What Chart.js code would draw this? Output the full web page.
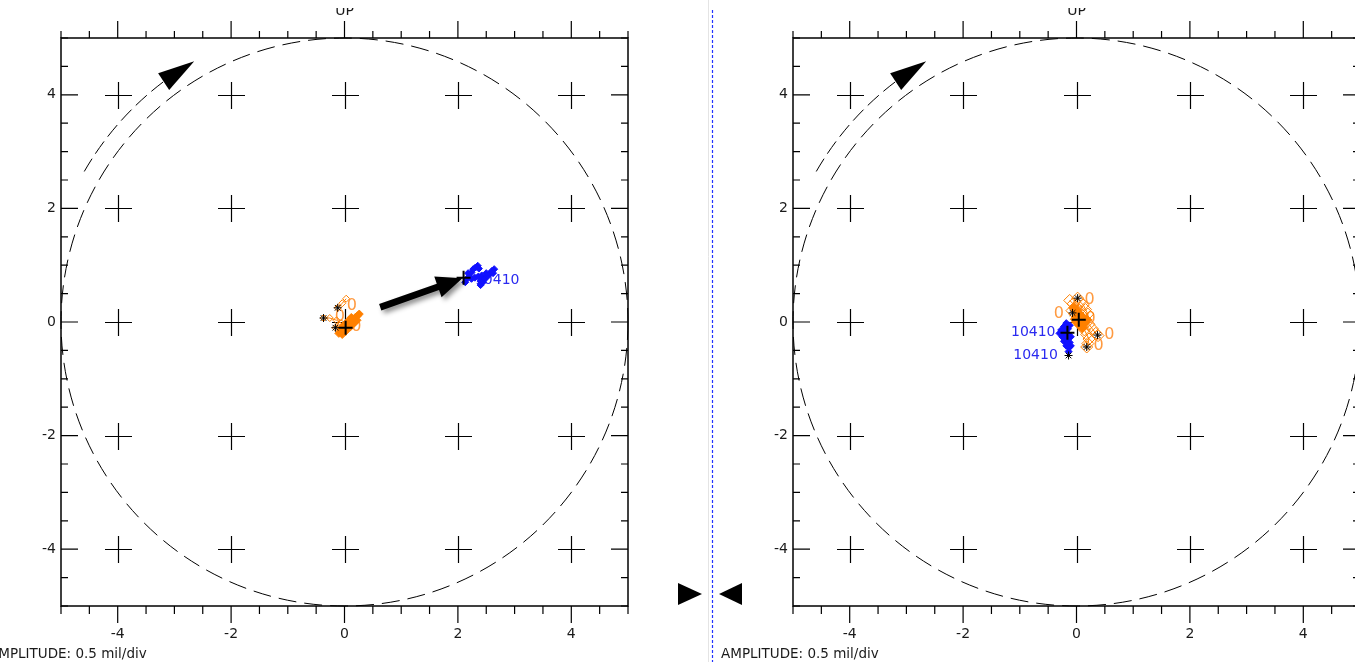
<!DOCTYPE html>
<html>
<head>
<meta charset="utf-8">
<title>Orbit polar plots</title>
<script src="https://cdn.jsdelivr.net/npm/chart.js@4/dist/chart.umd.min.js"></script>
<style>
  html, body { margin: 0; padding: 0; background: #fff; overflow: hidden; width: 1355px; height: 662px; }
  canvas { position: absolute; top: 0; }
  #orbitLeft { left: -20px; }
  #orbitRight { left: 712px; }
  #divider { position: absolute; left: 0; top: 0; }
</style>
</head>
<body>
<canvas id="orbitLeft" width="720" height="662"></canvas>
<canvas id="orbitRight" width="720" height="662"></canvas>
<svg id="divider" width="1355" height="662">
  <line x1="708.5" y1="0" x2="708.5" y2="662" stroke="#e4e4e4" stroke-width="1"/>
  <line x1="712.5" y1="10" x2="712.5" y2="662" stroke="#2233ff" stroke-width="1.2" stroke-dasharray="3 2"/>
  <polygon points="678,583 702,594 678,605" fill="#000"/>
  <polygon points="742,583 719,594 742,605" fill="#000"/>
</svg>
<script>
// ---- axes ----
const axisMin = -5;
const axisMax = 5;
const tickLabels = [-4, -2, 0, 2, 4];
const minorStep = 0.5;
const crossPositions = [-4, -2, 0, 2, 4];
const circleRadius = 5;
const rotationArcRadius = 5.3;
const rotationArcStart = 150;   // degrees
const rotationArcEnd = 120;     // arrow tip, degrees
const amplitudeText = 'AMPLITUDE: 0.5 mil/div';
const directionText = 'UP';

// ---- left plot ----
const leftOrangeTraces = [
  [[-0.12, 0.25], [-0.04, 0.33], [0.03, 0.41]],
  [[-0.37, 0.07], [-0.26, 0.07], [-0.14, 0.03], [-0.06, -0.02]],
  [[-0.16, -0.10], [-0.08, -0.06], [0.00, -0.04]]
];
const leftOrangeDense = [
  [[-0.10, -0.20], [-0.05, -0.15], [-0.01, -0.11], [0.03, -0.07], [0.07, -0.03], [0.11, 0.01], [0.15, 0.05], [0.19, 0.08], [0.23, 0.11], [0.26, 0.14]],
  [[-0.04, -0.22], [0.01, -0.17], [0.05, -0.13], [0.10, -0.09], [0.14, -0.05], [0.18, -0.01], [0.22, 0.03]],
  [[-0.06, -0.12], [-0.02, -0.06], [0.03, -0.02], [0.08, 0.03], [0.12, 0.08]]
];
const leftBlueTraces = [
  [[2.13, 0.70], [2.16, 0.76], [2.20, 0.80], [2.18, 0.86], [2.24, 0.87], [2.27, 0.93], [2.31, 0.96], [2.35, 0.99], [2.37, 0.94]],
  [[2.40, 0.65], [2.44, 0.70], [2.47, 0.77], [2.52, 0.80], [2.50, 0.86], [2.56, 0.85], [2.60, 0.90], [2.64, 0.93], [2.62, 0.86]],
  [[2.24, 0.76], [2.30, 0.78], [2.36, 0.80], [2.42, 0.82], [2.46, 0.74], [2.40, 0.72]]
];
const leftStars = [[-0.12, 0.25], [-0.37, 0.07], [-0.16, -0.10]];
const leftCrosses = [[0.02, -0.10], [2.10, 0.78]];
const leftSpeedLabels = [
  [0.04, 0.28, '0', 'left', 'orange'],
  [-0.17, 0.09, '0', 'left', 'orange'],
  [0.12, -0.09, '0', 'left', 'orange'],
  [2.30, 0.74, '10410', 'left', 'blue']
];
const leftPointer = [[0.63, 0.26], [2.08, 0.77]];

// ---- right plot ----
const rightOrangeTraces = [
  [[-0.12, 0.38], [-0.06, 0.32], [0.00, 0.26], [0.05, 0.20], [0.10, 0.12], [0.16, 0.04], [0.22, -0.04], [0.28, -0.12], [0.34, -0.20], [0.38, -0.24]],
  [[-0.08, 0.20], [-0.03, 0.14], [0.02, 0.08], [0.06, 0.02], [0.10, -0.06], [0.14, -0.14], [0.18, -0.22], [0.22, -0.30], [0.20, -0.38], [0.18, -0.44]],
  [[0.02, 0.42], [0.06, 0.36], [0.12, 0.30], [0.16, 0.22], [0.20, 0.14]]
];
const rightOrangeDense = [
  [[-0.05, 0.25], [0.00, 0.20], [0.04, 0.15], [0.08, 0.10], [0.12, 0.05], [0.06, 0.05], [0.02, 0.10], [-0.02, 0.05], [0.00, 0.00], [0.05, -0.05], [0.10, -0.10], [0.14, -0.02], [0.18, 0.04]]
];
const rightBlueTraces = [
  [[-0.18, -0.02], [-0.22, -0.08], [-0.27, -0.14], [-0.30, -0.20], [-0.25, -0.26], [-0.20, -0.32], [-0.16, -0.38], [-0.13, -0.45], [-0.14, -0.52]],
  [[-0.12, -0.06], [-0.15, -0.12], [-0.19, -0.18], [-0.22, -0.24], [-0.18, -0.30], [-0.12, -0.36], [-0.10, -0.42]],
  [[-0.26, -0.18], [-0.20, -0.20], [-0.14, -0.22], [-0.10, -0.26], [-0.16, -0.30], [-0.22, -0.34], [-0.18, -0.42]]
];
const rightStars = [[0.02, 0.42], [-0.07, 0.16], [0.37, -0.23], [0.18, -0.44], [-0.14, -0.59]];
const rightCrosses = [[0.04, 0.04], [-0.16, -0.19]];
const rightSpeedLabels = [
  [0.14, 0.39, '0', 'left', 'orange'],
  [-0.40, 0.14, '0', 'left', 'orange'],
  [0.16, 0.05, '0', 'left', 'orange'],
  [0.49, -0.23, '0', 'left', 'orange'],
  [0.30, -0.42, '0', 'left', 'orange'],
  [-0.37, -0.19, '10410', 'right', 'blue'],
  [-0.33, -0.58, '10410', 'right', 'blue']
];

// ---- styling ----
const ORANGE = '#ff8000';
const ORANGE_TEXT = '#ff9a40';
const BLUE = '#1010ff';
const BLUE_TEXT = '#2a2af0';
const FONT = 'DejaVu Sans';

const toPoints = arr => arr.map(([x, y]) => ({ x, y }));

function traceSet(trace, color, radius, fill) {
  return {
    data: toPoints(trace),
    showLine: true,
    borderColor: color,
    borderWidth: 1,
    pointStyle: 'rectRot',
    pointRadius: radius,
    pointBorderColor: color,
    pointBackgroundColor: fill,
    pointBorderWidth: 1
  };
}

function markerSet(points, style, radius, width) {
  return {
    data: toPoints(points),
    showLine: false,
    pointStyle: style,
    pointRadius: radius,
    pointBorderColor: '#000',
    pointBackgroundColor: '#000',
    pointBorderWidth: width
  };
}

function makeDecor(speedLabels, pointer) {
  return {
    id: 'orbitDecor',
    beforeDatasetsDraw(chart) {
      const { ctx, chartArea: a, scales: { x, y } } = chart;
      ctx.save();
      ctx.strokeStyle = '#000';
      ctx.lineWidth = 1.5;
      ctx.setLineDash([]);
      ctx.strokeRect(a.left, a.top, a.right - a.left, a.bottom - a.top);

      // tick marks: outward on top/bottom, inward on left/right
      ctx.lineWidth = 1.2;
      ctx.beginPath();
      for (let v = axisMin; v <= axisMax + 1e-9; v += minorStep) {
        const major = Math.abs(v % 2) < 1e-9 && Math.abs(v) < axisMax;
        const len = major ? 17 : 7;
        const px = x.getPixelForValue(v);
        const py = y.getPixelForValue(v);
        ctx.moveTo(px, a.bottom); ctx.lineTo(px, a.bottom + len + (major ? 0 : 1));
        ctx.moveTo(px, a.top); ctx.lineTo(px, a.top - len);
        ctx.moveTo(a.left, py); ctx.lineTo(a.left + len, py);
        ctx.moveTo(a.right, py); ctx.lineTo(a.right - len, py);
      }
      ctx.stroke();

      // grid crosses
      ctx.lineWidth = 1.2;
      ctx.beginPath();
      const arm = 13.5;
      crossPositions.forEach(cx => crossPositions.forEach(cy => {
        const px = Math.round(x.getPixelForValue(cx)) + 0.5;
        const py = Math.round(y.getPixelForValue(cy)) + 0.5;
        ctx.moveTo(px - arm, py); ctx.lineTo(px + arm, py);
        ctx.moveTo(px, py - arm); ctx.lineTo(px, py + arm);
      }));
      ctx.stroke();

      // reference circle
      const cx0 = x.getPixelForValue(0);
      const cy0 = y.getPixelForValue(0);
      const rx = x.getPixelForValue(circleRadius) - cx0;
      const ry = cy0 - y.getPixelForValue(circleRadius);
      ctx.lineWidth = 1;
      ctx.setLineDash([18, 8]);
      ctx.beginPath();
      ctx.ellipse(cx0, cy0, rx, ry, 0, 0, Math.PI * 2);
      ctx.stroke();

      // rotation direction arrow
      const k = rotationArcRadius / circleRadius;
      const deg = Math.PI / 180;
      const arcPt = t => [cx0 + rx * k * Math.cos(t * deg), cy0 - ry * k * Math.sin(t * deg)];
      const headBase = rotationArcEnd + 7;
      ctx.setLineDash([15, 6]);
      ctx.beginPath();
      ctx.ellipse(cx0, cy0, rx * k, ry * k, 0, -rotationArcStart * deg, -headBase * deg, false);
      ctx.stroke();
      ctx.setLineDash([]);
      const [tx, ty] = arcPt(rotationArcEnd);
      const [bx, by] = arcPt(headBase);
      const dx = tx - bx, dy = ty - by, dl = Math.hypot(dx, dy);
      const nx = -dy / dl * 10, ny = dx / dl * 10;
      ctx.fillStyle = '#000';
      ctx.beginPath();
      ctx.moveTo(tx, ty);
      ctx.lineTo(bx + nx, by + ny);
      ctx.lineTo(bx - nx, by - ny);
      ctx.closePath();
      ctx.fill();

      // speed labels
      ctx.font = '15px "' + FONT + '"';
      ctx.textBaseline = 'middle';
      speedLabels.forEach(([lx, ly, text, align, tone]) => {
        ctx.textAlign = align;
        ctx.fillStyle = tone === 'blue' ? BLUE_TEXT : ORANGE_TEXT;
        ctx.font = (tone === 'blue' ? '14px "' : '16px "') + FONT + '"';
        ctx.fillText(text, x.getPixelForValue(lx), y.getPixelForValue(ly));
      });
      ctx.restore();
    },
    afterDatasetsDraw(chart) {
      const { ctx, chartArea: a, scales: { x, y } } = chart;
      ctx.save();
      if (pointer) {
        const [sx, sy] = [x.getPixelForValue(pointer[0][0]), y.getPixelForValue(pointer[0][1])];
        const [ex, ey] = [x.getPixelForValue(pointer[1][0]), y.getPixelForValue(pointer[1][1])];
        const dx = ex - sx, dy = ey - sy, dl = Math.hypot(dx, dy);
        const ux = dx / dl, uy = dy / dl;
        const headLen = 26, headHalf = 11;
        const hx = ex - ux * headLen, hy = ey - uy * headLen;
        ctx.shadowColor = 'rgba(0,0,0,0.45)';
        ctx.shadowBlur = 5;
        ctx.shadowOffsetX = 3;
        ctx.shadowOffsetY = 3;
        ctx.fillStyle = '#000';
        ctx.beginPath();
        const w = 3.4;
        ctx.moveTo(sx - uy * w, sy + ux * w);
        ctx.lineTo(hx - uy * w, hy + ux * w);
        ctx.lineTo(hx - uy * headHalf, hy + ux * headHalf);
        ctx.lineTo(ex, ey);
        ctx.lineTo(hx + uy * headHalf, hy - ux * headHalf);
        ctx.lineTo(hx + uy * w, hy - ux * w);
        ctx.lineTo(sx + uy * w, sy - ux * w);
        ctx.closePath();
        ctx.fill();
      }
      ctx.restore();

      ctx.save();
      ctx.fillStyle = '#1a1a1a';
      ctx.font = '13.5px "' + FONT + '"';
      ctx.textBaseline = 'alphabetic';
      ctx.textAlign = 'left';
      ctx.fillText(amplitudeText, a.left - 72, 658);
      ctx.beginPath();
      ctx.rect(0, 8, chart.width, chart.height);
      ctx.clip();
      ctx.font = '14px "' + FONT + '"';
      ctx.textAlign = 'center';
      ctx.fillText(directionText, x.getPixelForValue(0), 15);
      ctx.restore();
    }
  };
}

function axisOptions(isX) {
  return {
    type: 'linear',
    min: axisMin,
    max: axisMax,
    afterBuildTicks: s => { s.ticks = tickLabels.map(v => ({ value: v })); },
    afterFit: s => { if (isX) s.height = 56; else s.width = 81; },
    grid: { display: false, drawTicks: false },
    border: { display: false },
    ticks: {
      padding: isX ? 20 : 5,
      color: '#1a1a1a',
      font: { family: FONT, size: 14 },
      maxRotation: 0,
      autoSkip: false
    }
  };
}

function buildOrbit(canvasId, parts) {
  const datasets = [];
  parts.crosses.length && datasets.push(markerSet(parts.crosses, 'cross', 7, 2));
  datasets.push(markerSet(parts.stars, 'star', 4, 1));
  parts.blue.forEach(t => datasets.push(traceSet(t, BLUE, 3.5, BLUE)));
  parts.orangeDense.forEach(t => datasets.push(traceSet(t, ORANGE, parts.denseRadius, ORANGE)));
  parts.orange.forEach(t => datasets.push(traceSet(t, ORANGE, parts.outlineRadius, 'rgba(255,255,255,0)')));
  return new Chart(document.getElementById(canvasId), {
    type: 'scatter',
    data: { datasets },
    options: {
      responsive: false,
      animation: false,
      devicePixelRatio: 1,
      layout: { padding: { left: 0, top: 38, right: 72, bottom: 0 } },
      plugins: { legend: { display: false }, tooltip: { enabled: false } },
      scales: { x: axisOptions(true), y: axisOptions(false) }
    },
    plugins: [makeDecor(parts.labels, parts.pointer)]
  });
}

buildOrbit('orbitLeft', {
  orange: leftOrangeTraces, orangeDense: leftOrangeDense, blue: leftBlueTraces,
  stars: leftStars, crosses: leftCrosses, labels: leftSpeedLabels, pointer: leftPointer,
  denseRadius: 4, outlineRadius: 3.5
});
buildOrbit('orbitRight', {
  orange: rightOrangeTraces, orangeDense: rightOrangeDense, blue: rightBlueTraces,
  stars: rightStars, crosses: rightCrosses, labels: rightSpeedLabels, pointer: null,
  denseRadius: 5, outlineRadius: 6
});
</script>
</body>
</html>
